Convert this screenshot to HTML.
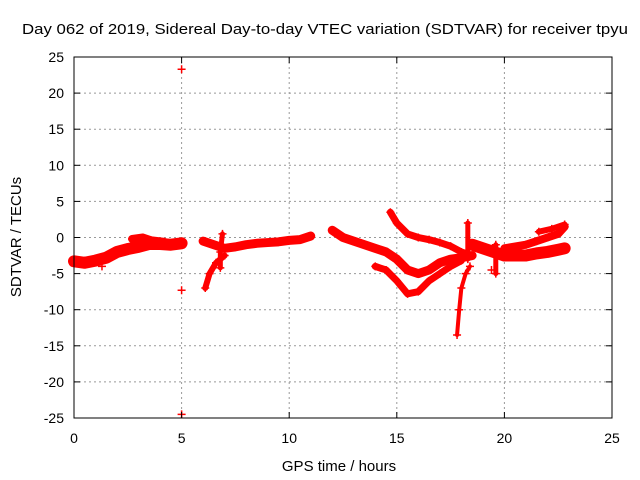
<!DOCTYPE html>
<html><head><meta charset="utf-8"><style>
body{margin:0;background:#fff}
svg{display:block;font-family:"Liberation Sans",sans-serif}
</style></head><body>
<svg id="c" width="640" height="480">
<rect width="640" height="480" fill="#fff"/>
<g id="grid"></g>
<g id="marks"></g>
<rect x="74" y="57" width="538" height="361" fill="none" stroke="#000" stroke-width="1"/>
<g id="ticks"></g>
<text x="325" y="34" font-size="15" text-anchor="middle" textLength="606" lengthAdjust="spacingAndGlyphs">Day 062 of 2019, Sidereal Day-to-day VTEC variation (SDTVAR) for receiver tpyu</text>
<text x="339" y="471" font-size="15" text-anchor="middle">GPS time / hours</text>
<text transform="translate(21,237) rotate(-90)" font-size="15" text-anchor="middle">SDTVAR / TECUs</text>
</svg>
<script>
const xTicks=[0,5,10,15,20,25];
const yTicks=[25,20,15,10,5,0,-5,-10,-15,-20,-25];
const trackA=[[0,-3.3],[0.5,-3.5],[1,-3.2],[1.5,-2.8],[2,-2],[2.5,-1.6],[3,-1.3],[3.5,-0.9],[4,-0.9],[4.5,-1],[5,-0.8]];
const trackA2=[[2.7,-0.2],[3.2,0],[3.6,-0.4],[4.2,-0.6]];
const trackB=[[6,-0.5],[6.5,-1],[7,-1.5],[7.5,-1.3],[8,-1],[8.5,-0.8],[9,-0.7],[9.5,-0.6],[10,-0.4],[10.5,-0.3],[11,0.2]];
const trackB2=[[6.1,-7],[6.3,-5],[6.6,-3.5],[7,-2.5]];
const trackB3=[[6.8,-4.2],[6.8,-2],[6.9,0.5]];
const trackC=[[12,1],[12.5,0],[13,-0.5],[13.5,-1],[14,-1.5],[14.5,-2],[15,-3],[15.5,-4.5],[16,-5],[16.5,-4.5],[17,-3.5],[17.5,-3],[18,-2.8],[18.5,-2.5]];
const trackD=[[14.7,3.5],[15,2],[15.5,0.5],[16,0],[16.5,-0.3],[17,-0.7],[17.5,-1.2],[18,-2],[18.5,-2.5]];
const trackE=[[14,-4],[14.5,-4.5],[15,-6],[15.5,-7.8],[16,-7.5],[16.5,-6],[17,-5],[17.5,-4],[18,-3.2]];
const trackF=[[18.5,-1],[19,-1.5],[19.5,-2],[20,-2.5],[20.5,-2.5],[21,-2.5],[21.5,-2.2],[22,-2],[22.5,-1.7],[22.8,-1.5]];
const trackG=[[20,-1.5],[21,-1],[21.5,-0.5],[22,0],[22.5,0.5],[22.8,1.5]];
const trackH=[[21.6,0.8],[22.2,1.2],[22.8,1.8]];
const trackV=[[17.8,-13.5],[17.9,-10],[18,-7],[18.2,-5],[18.4,-4]];
const spike1=[[18.3,2],[18.3,-3]];
const spike2=[[19.6,-1],[19.6,-5]];
const outliers=[[5,23.3],[5,-7.3],[5,-24.5],[1.3,-4],[19.4,-4.5]];
const X=t=>74+t*538/25, Y=v=>237.5-v*361/50;
const NS="http://www.w3.org/2000/svg";
const grid=document.getElementById('grid'),ticks=document.getElementById('ticks'),marks=document.getElementById('marks');
function mk(tag,a,p){const e=document.createElementNS(NS,tag);for(const k in a)e.setAttribute(k,a[k]);p.appendChild(e);return e;}
xTicks.forEach(t=>{
 if(t>0&&t<25){const g=mk('line',{x1:X(t),x2:X(t),y1:57,y2:418,stroke:'#999','stroke-dasharray':'2,3'},grid);
 
 }
 mk('line',{x1:X(t),x2:X(t),y1:418,y2:412,stroke:'#000'},ticks);
 mk('line',{x1:X(t),x2:X(t),y1:57,y2:63,stroke:'#000'},ticks);
 const l=mk('text',{x:X(t),y:443,'font-size':14,'text-anchor':'middle'},ticks);l.textContent=t;
 
 
});
yTicks.forEach(v=>{
 if(v>-25&&v<25){const g=mk('line',{x1:74,x2:612,y1:Y(v),y2:Y(v),stroke:'#999','stroke-dasharray':'2,3'},grid);
 
 }
 mk('line',{x1:74,x2:80,y1:Y(v),y2:Y(v),stroke:'#000'},ticks);
 mk('line',{x1:612,x2:606,y1:Y(v),y2:Y(v),stroke:'#000'},ticks);
 const l=mk('text',{x:64,y:Y(v)+5,'font-size':14,'text-anchor':'end'},ticks);l.textContent=v;
 
 
});
function track(arr,w,name){
 const pl=mk('polyline',{points:arr.map(p=>X(p[0])+','+Y(p[1])).join(' '),fill:'none',stroke:'#f00','stroke-width':w,'stroke-linejoin':'round','stroke-linecap':'round'},marks);
 
 
 plus(arr);
}
function plus(arr){arr.forEach(p=>{const x=X(p[0]),y=Y(p[1]);
 const m=mk('path',{d:`M${x-4},${y}H${x+4}M${x},${y-4}V${y+4}`,stroke:'#f00','stroke-width':1.5},marks);
 
 });}
track(trackA,12,'track-a');track(trackA2,8,'track-a2');
track(trackB,9,'track-b');track(trackB2,6,'track-b2');track(trackB3,5,'track-b3');
track(trackC,9,'track-c');track(trackD,7,'track-d');track(trackE,7,'track-e');
track(trackF,12,'track-f');track(trackG,8,'track-g');track(trackH,6,'track-h');
track(trackV,4,'track-v');track(spike1,5,'spike-1');track(spike2,5,'spike-2');
plus(outliers);
</script>
</body></html>
